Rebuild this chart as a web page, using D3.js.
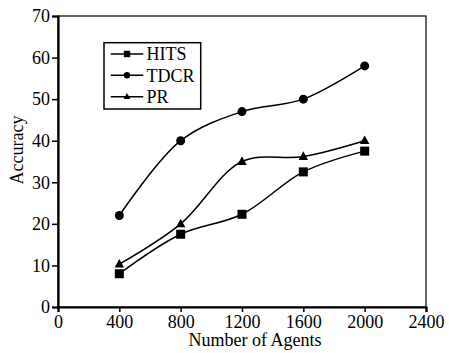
<!DOCTYPE html>
<html><head><meta charset="utf-8">
<script src="https://cdn.jsdelivr.net/npm/d3@7/dist/d3.min.js"></script>
<style>body{margin:0;background:#fff}svg{display:block}svg text{font-family:serif}</style>
</head><body><svg id="c" width="449" height="353"></svg>
<script>
const agents = [400, 800, 1200, 1600, 2000];
const hits = [8, 17.5, 22.3, 32.5, 37.5];
const tdcr = [22, 40, 47, 50, 58];
const pr = [10.3, 20, 35, 36.2, 40];
const xTicks = [0, 400, 800, 1200, 1600, 2000, 2400];
const yTicks = [0, 10, 20, 30, 40, 50, 60, 70];
const seriesNames = ["HITS", "TDCR", "PR"];
const seriesMarks = ["square", "circle", "triangle"];

const FONT = "serif";
const svg = d3.select("#c");
const L = 58, R = 426, T = 16, B = 307;
const x = d3.scaleLinear().domain([0, 2400]).range([L, R]);
const y = d3.scaleLinear().domain([0, 70]).range([B, T]);

svg.append("rect").attr("x", L).attr("y", T).attr("width", R - L).attr("height", B - T)
  .attr("fill", "none").attr("stroke", "#000").attr("stroke-width", 1.2);

const xa = svg.append("g").attr("transform", `translate(0,${B})`)
  .call(d3.axisBottom(x).tickValues(xTicks).tickSize(5).tickPadding(3).tickFormat(d3.format("d")));
const ya = svg.append("g").attr("transform", `translate(${L},0)`)
  .call(d3.axisLeft(y).tickValues(yTicks).tickSize(6).tickPadding(2).tickFormat(d3.format("d")));
[xa, ya].forEach(a => {
  a.attr("font-family", FONT).attr("font-size", 18);
  a.select(".domain").attr("stroke-width", 2.2).attr("stroke", "#000");
  a.selectAll(".tick line").attr("stroke-width", 1.5).attr("stroke", "#000");
  a.selectAll("text").attr("fill", "#000").style("font-family", FONT).style("font-size", "18px");
});

svg.append("text").attr("x", 255).attr("y", 346).attr("text-anchor", "middle")
  .style("font-family", FONT).style("font-size", "18px").text("Number of Agents");
svg.append("text").attr("transform", "translate(23,150) rotate(-90)").attr("text-anchor", "middle")
  .style("font-family", FONT).style("font-size", "18px").text("Accuracy");

const data = [hits, tdcr, pr];
const line = d3.line().x((d, i) => x(agents[i])).y(d => y(d)).curve(d3.curveCatmullRom.alpha(0.5));

function marker(g, type, cx, cy, s) {
  if (type === "square") g.append("rect").attr("x", cx - s).attr("y", cy - s).attr("width", 2 * s).attr("height", 2 * s).attr("fill", "#000");
  else if (type === "circle") g.append("circle").attr("cx", cx).attr("cy", cy).attr("r", s).attr("fill", "#000");
  else g.append("path").attr("d", `M${cx},${cy - s * 1.15}L${cx + s * 1.05},${cy + s * 0.75}L${cx - s * 1.05},${cy + s * 0.75}Z`).attr("fill", "#000");
}

data.forEach((vals, k) => {
  svg.append("path").datum(vals).attr("d", line).attr("fill", "none").attr("stroke", "#000").attr("stroke-width", 1.5);
  const g = svg.append("g");
  vals.forEach((v, i) => marker(g, seriesMarks[k], x(agents[i]), y(v), 4.5));
});

svg.append("rect").attr("x", 104).attr("y", 42.7).attr("width", 96.7).attr("height", 66.3)
  .attr("fill", "#fff").attr("stroke", "#000").attr("stroke-width", 1.5);
const ly = [54, 75.3, 96.7];
seriesNames.forEach((n, k) => {
  svg.append("line").attr("x1", 110.7).attr("x2", 143.3).attr("y1", ly[k]).attr("y2", ly[k]).attr("stroke", "#000").attr("stroke-width", 1.5);
  marker(svg, seriesMarks[k], 127, ly[k], 3.2);
  svg.append("text").attr("x", 146.5).attr("y", ly[k] + 6.3).style("font-family", FONT).style("font-size", "18px").text(n);
});
</script></body></html>
